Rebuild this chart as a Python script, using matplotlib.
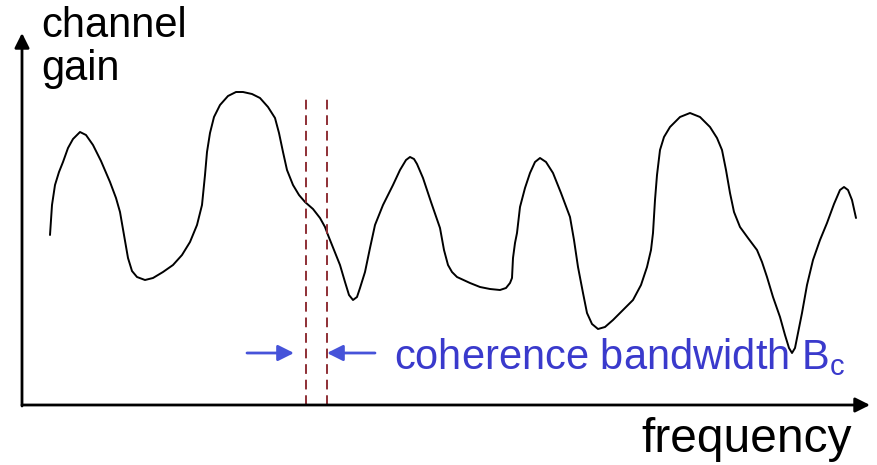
import matplotlib
matplotlib.use('Agg')
import matplotlib.pyplot as plt

# hand-drawn channel response
freq = [28, 30, 33, 37, 41, 46, 51, 58, 64, 71, 79, 88, 94, 98, 102, 106, 110,
        115, 123, 131, 141, 151, 160, 168, 175, 180, 183, 185, 188, 192, 198,
        206, 214, 221, 230, 238, 246, 253, 257, 261, 265, 271, 277, 283, 291,
        298, 303, 306, 312, 318, 323, 327, 331, 335, 338, 343, 348, 353, 361,
        371, 378, 384, 388, 392, 395, 401, 409, 418, 422, 426, 430, 435, 448,
        458, 468, 478, 484, 488, 490, 491, 493, 495, 498, 503, 508, 513, 518,
        524, 531, 539, 548, 552, 556, 561, 565, 570, 576, 583, 591, 601, 611,
        619, 625, 629, 631, 633, 635, 638, 642, 648, 658, 668, 678, 688, 695,
        700, 704, 708, 712, 718, 726, 735, 740, 745, 751, 758, 763, 767, 770,
        773, 776, 780, 785, 791, 798, 805, 812, 818, 822, 826, 830, 834]
gain = [170, 200, 220, 233, 243, 257, 266, 273, 270, 260, 244, 223, 207, 193,
        170, 147, 134, 128, 125, 127, 133, 140, 150, 163, 180, 200, 230, 253,
        272, 288, 300, 309, 313, 313, 311, 307, 298, 287, 272, 253, 235, 220,
        210, 203, 196, 187, 178, 170, 155, 140, 123, 110, 105, 108, 117, 133,
        157, 180, 200, 220, 235, 245, 248, 246, 241, 227, 203, 177, 155, 140,
        133, 128, 122, 118, 116, 115, 117, 122, 127, 147, 162, 172, 198, 217,
        232, 243, 247, 243, 232, 212, 188, 165, 138, 112, 92, 81, 76, 78, 85,
        95, 105, 120, 138, 155, 172, 205, 230, 255, 268, 278, 288, 292, 288,
        278, 267, 255, 235, 212, 193, 178, 167, 155, 143, 128, 108, 88, 70, 57,
        52, 57, 72, 92, 120, 145, 165, 182, 201, 215, 218, 215, 205, 187]

# coherence bandwidth markers
bc_edges = [284, 305]
bc_top = 309
bc_arrow_y = 52

y_label = ['channel', 'gain']
x_label = 'frequency'
bc_label = 'coherence bandwidth B$_{\\mathrm{c}}$'

plt.rcParams['font.family'] = ['Liberation Sans', 'DejaVu Sans']
plt.rcParams['mathtext.fontset'] = 'custom'
plt.rcParams['mathtext.rm'] = 'Liberation Sans'

blue_text = '#3a3acc'
blue_arrow = '#4653d9'
dash_red = '#8e2f35'

fig = plt.figure(figsize=(8.78, 4.65), dpi=100)
ax = fig.add_axes([0, 0, 1, 1])
ax.set_xlim(-22, 856)
ax.set_ylim(-60, 405)
ax.axis('off')

# axes with arrow heads
ax.annotate('', xy=(848, 0), xytext=(0, 0),
            arrowprops=dict(arrowstyle='-|>', lw=2, color='black',
                            mutation_scale=22, shrinkA=0, shrinkB=0))
ax.annotate('', xy=(0, 372), xytext=(0, -1),
            arrowprops=dict(arrowstyle='-|>', lw=2, color='black',
                            mutation_scale=22, shrinkA=0, shrinkB=0))

ax.plot(freq, gain, color='black', lw=1.4, solid_joinstyle='round',
        solid_capstyle='round')

for e in bc_edges:
    ax.plot([e, e], [0, bc_top], color=dash_red, lw=1.4, ls=(0, (5, 3)))

ax.annotate('', xy=(bc_edges[0] - 12, bc_arrow_y), xytext=(bc_edges[0] - 59, bc_arrow_y),
            arrowprops=dict(arrowstyle='-|>', lw=2, color=blue_arrow,
                            mutation_scale=24, shrinkA=0, shrinkB=0))
ax.annotate('', xy=(bc_edges[1], bc_arrow_y), xytext=(bc_edges[1] + 48, bc_arrow_y),
            arrowprops=dict(arrowstyle='-|>', lw=2, color=blue_arrow,
                            mutation_scale=24, shrinkA=0, shrinkB=0))

ax.text(19, 368, y_label[0], fontsize=30, va='baseline', ha='left')
ax.text(19, 325, y_label[1], fontsize=30, va='baseline', ha='left')
ax.text(619, -47, x_label, fontsize=34.5, va='baseline', ha='left')
ax.text(372, 36, bc_label, fontsize=30, va='baseline', ha='left', color=blue_text)

fig.savefig('out.png', dpi=100)
